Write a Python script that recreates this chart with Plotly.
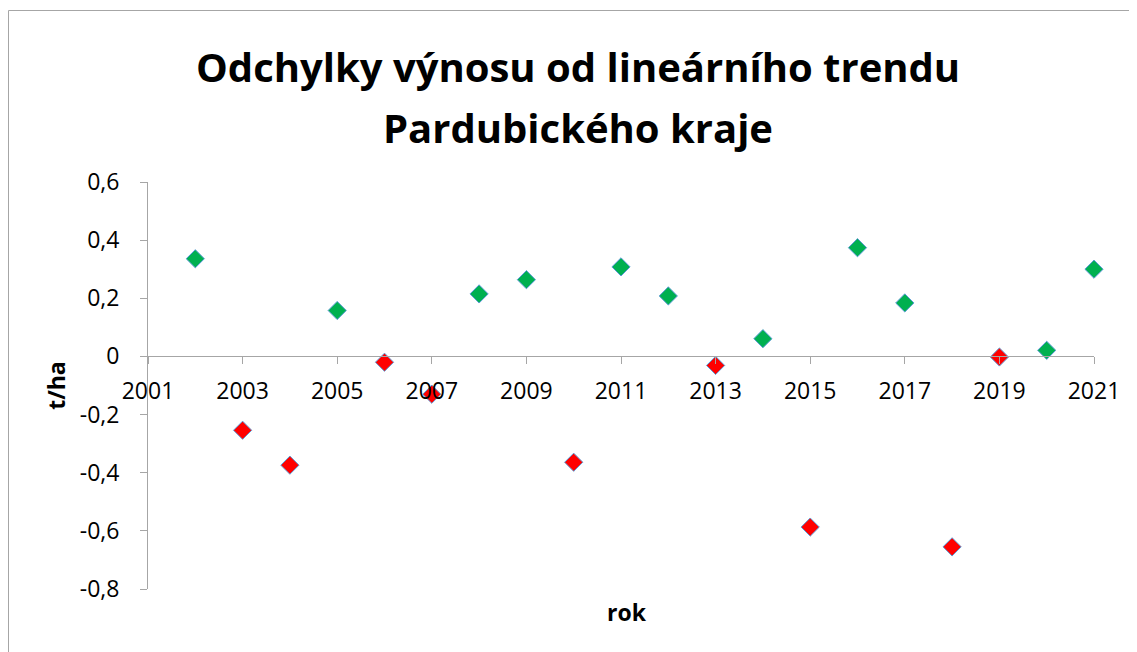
import plotly.graph_objects as go

years = list(range(2002, 2022))
values = [0.336, -0.254, -0.374, 0.158, -0.020, -0.130, 0.215, 0.264, -0.364, 0.308,
          0.208, -0.031, 0.061, -0.587, 0.374, 0.184, -0.655, -0.002, 0.021, 0.300]
y_ticks = [0.6, 0.4, 0.2, 0, -0.2, -0.4, -0.6, -0.8]
y_tick_labels = ["0,6", "0,4", "0,2", "0", "-0,2", "-0,4", "-0,6", "-0,8"]
x_ticks = list(range(2001, 2022, 2))

title_lines = ["Odchylky výnosu od lineárního trendu", "Pardubického kraje"]
x_title = "rok"
y_title = "t/ha"

FONT = "Open Sans"
colors = ["#00B050" if v >= 0 else "#FF0000" for v in values]

ymin, ymax = -0.8, 0.6
W, H = 1137, 652
ml, mr, mt, mb = 140, 51, 174, 71
pw, ph = W - ml - mr, H - mt - mb


def py(fig_y):
    """figure pixel y (from top) -> paper y"""
    return (H - mb - fig_y) / ph


def px(fig_x):
    return (fig_x - ml) / pw


fig = go.Figure()
fig.add_trace(go.Scatter(
    x=years, y=values, mode="markers", cliponaxis=False,
    marker=dict(symbol="diamond", size=14, color=colors,
                line=dict(color="#5B9BD5", width=1)),
    showlegend=False, hoverinfo="x+y",
))

annotations = [
    dict(text="<b>" + title_lines[0] + "</b>", x=px(570), xref="paper", y=py(58), yref="paper",
         xanchor="center", yanchor="middle", showarrow=False,
         font=dict(family=FONT, size=40, color="black")),
    dict(text="<b>" + title_lines[1] + "</b>", x=px(570), xref="paper", y=py(119), yref="paper",
         xanchor="center", yanchor="middle", showarrow=False,
         font=dict(family=FONT, size=40, color="black")),
    dict(text="<b>" + x_title + "</b>", x=px(619), xref="paper", y=py(604), yref="paper",
         xanchor="center", yanchor="middle", showarrow=False,
         font=dict(family=FONT, size=23, color="black")),
]

fig.update_layout(
    width=W, height=H,
    margin=dict(l=ml, r=mr, t=mt, b=mb),
    paper_bgcolor="white", plot_bgcolor="white",
    font=dict(family=FONT, color="black", size=23),
    xaxis=dict(range=[2001, 2021], tickvals=x_ticks, ticktext=[str(t) for t in x_ticks],
               showgrid=False, zeroline=False, showline=True, linecolor="#A6A6A6",
               linewidth=1, ticks="outside", ticklen=7, tickcolor="#A6A6A6",
               ticklabelstandoff=7,
               anchor="free", position=(0 - ymin) / (ymax - ymin),
               tickfont=dict(family=FONT, size=23)),
    yaxis=dict(range=[ymin, ymax], tickvals=y_ticks, ticktext=y_tick_labels,
               showgrid=False, zeroline=False, showline=True, linecolor="#A6A6A6",
               linewidth=1, ticks="outside", ticklen=7, tickcolor="#A6A6A6",
               ticklabelstandoff=16,
               tickfont=dict(family=FONT, size=23),
               title=dict(text="<b>" + y_title + "</b>", standoff=7,
                          font=dict(family=FONT, size=23))),
    annotations=annotations,
    shapes=[dict(type="rect", xref="paper", yref="paper",
                 x0=px(0.5), x1=px(W + 20),
                 y0=py(H + 20), y1=py(2.5),
                 line=dict(color="#A6A6A6", width=1), layer="below")],
)

fig.write_html("out.html")
